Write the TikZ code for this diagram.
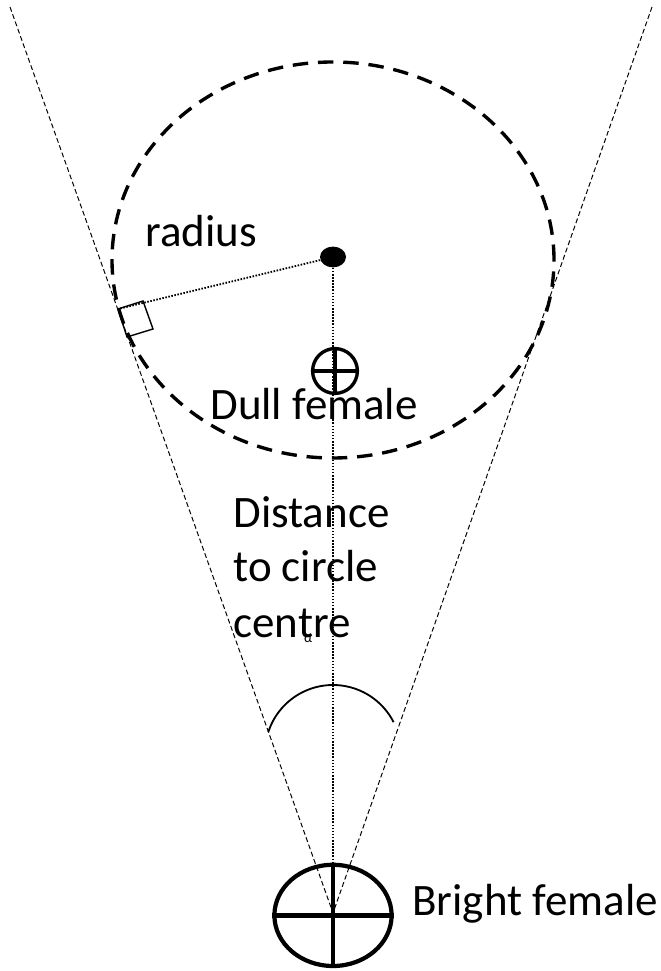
\documentclass[tikz,border=0pt]{standalone}
\usepackage{fontspec}
\setmainfont{Carlito}
\usetikzlibrary{shapes.geometric}

\begin{document}
\begin{tikzpicture}[line width=0.2mm,
  cone/.style={black,line width=0.7pt,dash pattern=on 3.5pt off 2pt},
  guide/.style={black,line width=1.3pt,dash pattern=on 1.1pt off 1.1pt},
  lbl/.style={font=\fontsize{32}{38}\selectfont,inner sep=0pt,anchor=base west}]
\useasboundingbox (0,0) rectangle (16.5,24.275);

\coordinate (apex) at (8.325,1.45);
\coordinate (ltop) at (0.25,24.1);
\coordinate (rtop) at (16.3,24.1);
\coordinate (tan) at (2.95,16.55);

% sight lines
\draw[cone] (ltop) -- (apex);
\draw[cone] (rtop) -- (apex);

% the circle
\draw[line width=2.4pt,dash pattern=on 11pt off 7pt] (8.325,17.775) ellipse [x radius=5.525cm, y radius=4.95cm];

% centre and radius
\node[ellipse,fill=black,minimum width=0.65cm,minimum height=0.52cm,inner sep=0pt] (cen) at (8.325,17.85) {};
\draw[guide] (cen) -- (tan);
\draw[guide] (cen) -- (apex);
\draw[line width=1pt] (tan) -- (3.575,16.75) -- (3.825,16.05) -- (3.175,15.85) -- cycle;

% dull female
\node[circle,draw,line width=2.4pt,minimum size=1.12cm,inner sep=0pt] (dull) at (8.375,15.0) {};
\draw[line width=2.4pt] (dull.north) -- (dull.south);
\draw[line width=2.4pt] (dull.west) -- (dull.east);

% angle
\draw[line width=1.3pt] (6.708,5.975) arc[start angle=162, end angle=27, radius=1.7cm];

% bright female
\node[ellipse,draw,line width=3pt,minimum width=2.93cm,minimum height=2.53cm,inner sep=0pt] (bright) at (8.325,1.39) {};
\draw[line width=3pt] (bright.north) -- (bright.south);
\draw[line width=3pt] (bright.west) -- (bright.east);

\node[lbl] (rad) at (3.625,18.1) {radius};
\node[lbl] (dulltxt) at (5.25,13.775) {Dull female};
\node[lbl] (dist1) at (5.825,11.075) {Distance};
\node[lbl] (dist2) at (5.825,9.725) {to circle};
\node[lbl] (dist3) at (5.825,8.325) {centre};
\node[font=\fontsize{10}{12}\selectfont,inner sep=0pt] (alpha) at (7.7,8.3) {α};
\node[lbl] (brighttxt) at (10.3,1.4) {Bright female};

\end{tikzpicture}
\end{document}
